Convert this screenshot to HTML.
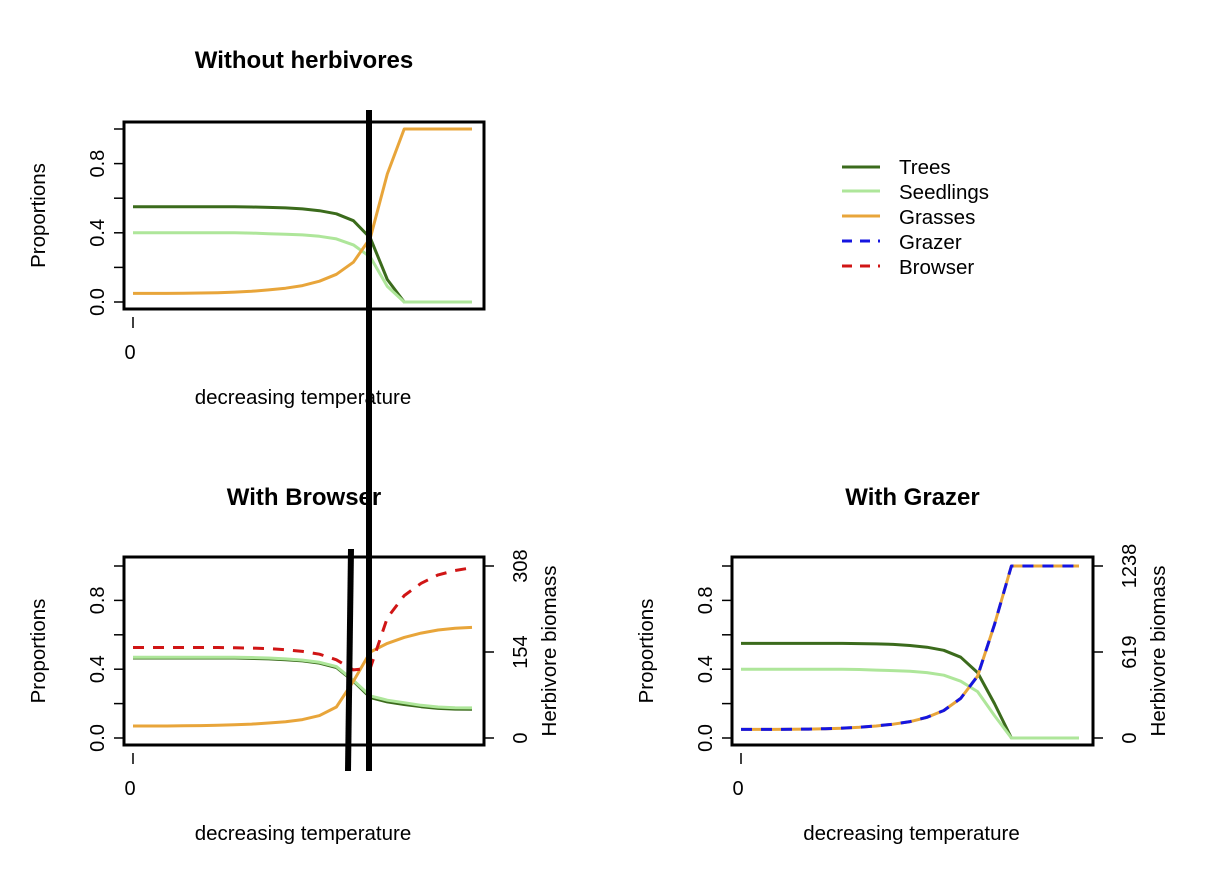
<!DOCTYPE html>
<html><head><meta charset="utf-8"><style>
body{margin:0;background:#fff}
svg{display:block;font-family:"Liberation Sans",Arial,sans-serif}
</style></head><body>
<svg id="chart" width="1214" height="870" viewBox="0 0 1214 870" xmlns="http://www.w3.org/2000/svg">
<rect width="1214" height="870" fill="#fff"/>
<g id="plots"></g>
<g font-size="20.5">
  <line x1="842" y1="167" x2="880" y2="167" stroke="#3b6b1c" stroke-width="3"/><text x="899" y="174">Trees</text>
  <line x1="842" y1="191" x2="880" y2="191" stroke="#aee69a" stroke-width="3"/><text x="899" y="199">Seedlings</text>
  <line x1="842" y1="216" x2="880" y2="216" stroke="#e8a53a" stroke-width="3"/><text x="899" y="224">Grasses</text>
  <line x1="842" y1="241" x2="880" y2="241" stroke="#1515e0" stroke-width="3" stroke-dasharray="10,8"/><text x="899" y="249">Grazer</text>
  <line x1="842" y1="266" x2="880" y2="266" stroke="#d01515" stroke-width="3" stroke-dasharray="10,8"/><text x="899" y="274">Browser</text>
</g>
<line x1="369" y1="110" x2="369" y2="771" stroke="#000" stroke-width="6"/>
<line x1="351" y1="549" x2="348" y2="771" stroke="#000" stroke-width="6"/>
</svg>
<script>
const tSteps = [0,0.05,0.1,0.15,0.2,0.25,0.3,0.35,0.4,0.45,0.5,0.55,0.6,0.65,0.7,0.75,0.8,0.85,0.9,0.95,1];
const topTrees = [0.55,0.55,0.55,0.55,0.55,0.55,0.55,0.549,0.547,0.544,0.538,0.528,0.51,0.47,0.37,0.13,0,0,0,0,0];
const topSeedlings = [0.40,0.40,0.40,0.40,0.40,0.40,0.40,0.398,0.395,0.392,0.388,0.38,0.365,0.33,0.26,0.09,0,0,0,0,0];
const topGrasses = [0.05,0.05,0.05,0.051,0.052,0.054,0.057,0.062,0.07,0.08,0.095,0.12,0.16,0.23,0.37,0.74,1,1,1,1,1];
const brTrees = [0.465,0.465,0.465,0.465,0.465,0.465,0.465,0.463,0.46,0.455,0.448,0.435,0.41,0.33,0.235,0.21,0.195,0.182,0.172,0.168,0.167];
const brSeedlings = [0.47,0.47,0.47,0.47,0.47,0.47,0.47,0.468,0.465,0.46,0.453,0.44,0.415,0.335,0.245,0.22,0.205,0.19,0.18,0.176,0.175];
const brGrasses = [0.07,0.07,0.07,0.071,0.072,0.074,0.077,0.081,0.087,0.095,0.107,0.13,0.18,0.33,0.5,0.55,0.585,0.61,0.628,0.638,0.643];
const brBrowser = [162,162,162,162,162,162,161.5,161,160,158,155,150,140,122,125,215,255,277,292,300,305];
const grTrees = [0.55,0.55,0.55,0.55,0.55,0.55,0.55,0.549,0.547,0.544,0.538,0.528,0.51,0.47,0.38,0.2,0,0,0,0,0];
const grSeedlings = [0.40,0.40,0.40,0.40,0.40,0.40,0.40,0.398,0.395,0.392,0.388,0.38,0.365,0.33,0.27,0.13,0,0,0,0,0];
const grGrasses = [0.05,0.05,0.05,0.051,0.052,0.054,0.057,0.062,0.07,0.08,0.095,0.12,0.16,0.23,0.36,0.66,1,1,1,1,1];
const grGrazer = [62,62,62,63,64,67,71,77,87,99,118,149,198,285,446,817,1238,1238,1238,1238,1238];
const yTicks = [0,0.2,0.4,0.6,0.8,1.0];
const yTickLabels = ["0.0","","0.4","","0.8",""];

const NS="http://www.w3.org/2000/svg";
const root=document.getElementById('plots');
function el(tag,attrs,parent){const e=document.createElementNS(NS,tag);for(const k in attrs)e.setAttribute(k,attrs[k]);(parent||root).appendChild(e);return e;}
function txt(x,y,s,attrs,parent){const e=el('text',Object.assign({x:x,y:y},attrs||{}),parent);e.textContent=s;return e;}

function panel(o){
  const g=el('g',{});
  
  
  const xs=t=>o.dx0+t*(o.dx1-o.dx0);
  const ys=v=>o.y0-v*(o.y0-o.y1);
  const t1=txt((o.bx0+o.bx1)/2,o.titleY,o.title,{'font-size':24,'font-weight':'bold','text-anchor':'middle'},g);
  
  
  yTicks.forEach((v,i)=>{
    el('line',{x1:o.bx0-10,x2:o.bx0,y1:ys(v),y2:ys(v),stroke:'#000','stroke-width':1.5},g);
    if(yTickLabels[i]){txt(o.bx0-20,ys(v),yTickLabels[i],{'font-size':20,'text-anchor':'middle',transform:`rotate(-90 ${o.bx0-20} ${ys(v)})`},g);}
  });
  const yl=txt(o.bx0-79,(o.by0+o.by1)/2,'Proportions',{'font-size':20.5,'text-anchor':'middle',transform:`rotate(-90 ${o.bx0-79} ${(o.by0+o.by1)/2})`},g);
  
  
  el('line',{x1:xs(0),x2:xs(0),y1:o.by1+8,y2:o.by1+19,stroke:'#000','stroke-width':1.5},g);
  txt(xs(0)-3,o.by1+50,'0',{'font-size':20,'text-anchor':'middle'},g);
  const xl=txt((o.bx0+o.bx1)/2-1,o.by1+95,'decreasing temperature',{'font-size':20.5,'text-anchor':'middle'},g);
  
  
  if(o.right){
    const rs=v=>o.y0-v/o.right.max*(o.y0-o.y1);
    o.right.ticks.forEach(v=>{
      el('line',{x1:o.bx1,x2:o.bx1+10,y1:rs(v),y2:rs(v),stroke:'#000','stroke-width':1.5},g);
      txt(o.bx1+43,rs(v),String(v),{'font-size':20,'text-anchor':'middle',transform:`rotate(-90 ${o.bx1+43} ${rs(v)})`},g);
    });
    const rl=txt(o.bx1+72,(o.by0+o.by1)/2,'Herbivore biomass',{'font-size':20.5,'text-anchor':'middle',transform:`rotate(-90 ${o.bx1+72} ${(o.by0+o.by1)/2})`},g);
    
    
  }
  o.series.forEach(s=>{
    const scale=s.right?(v=>o.y0-v/o.right.max*(o.y0-o.y1)):ys;
    const pts=s.data.map((v,i)=>xs(tSteps[i]).toFixed(1)+','+scale(v).toFixed(1)).join(' ');
    const p=el('polyline',{points:pts,fill:'none',stroke:s.color,'stroke-width':3,'stroke-linejoin':'round'},g);
    if(s.dash)p.setAttribute('stroke-dasharray',s.dash);
    
    
  });
  el('rect',{x:o.bx0,y:o.by0,width:o.bx1-o.bx0,height:o.by1-o.by0,fill:'none',stroke:'#000','stroke-width':3},g);
}
const C={trees:'#3b6b1c',seed:'#aee69a',grass:'#e8a53a',grazer:'#1515e0',browser:'#d01515'};
panel({name:'panel-without-herbivores',title:'Without herbivores',titleY:68,bx0:124,bx1:484,by0:122,by1:309,dx0:133,dx1:472,y0:302,y1:129,
  series:[{name:'trees-line',data:topTrees,color:C.trees},{name:'seedlings-line',data:topSeedlings,color:C.seed},{name:'grasses-line',data:topGrasses,color:C.grass}]});
panel({name:'panel-with-browser',title:'With Browser',titleY:505,bx0:124,bx1:484,by0:557,by1:745,dx0:133,dx1:472,y0:738,y1:566,right:{max:308,ticks:[0,154,308]},
  series:[{name:'trees-line',data:brTrees,color:C.trees},{name:'seedlings-line',data:brSeedlings,color:C.seed},{name:'grasses-line',data:brGrasses,color:C.grass},{name:'browser-line',data:brBrowser,color:C.browser,dash:'11,9',right:true}]});
panel({name:'panel-with-grazer',title:'With Grazer',titleY:505,bx0:732,bx1:1093,by0:557,by1:745,dx0:741,dx1:1079,y0:738,y1:566,right:{max:1238,ticks:[0,619,1238]},
  series:[{name:'trees-line',data:grTrees,color:C.trees},{name:'seedlings-line',data:grSeedlings,color:C.seed},{name:'grasses-line',data:grGrasses,color:C.grass},{name:'grazer-line',data:grGrazer,color:C.grazer,dash:'11,9',right:true}]});
</script>
</body></html>
